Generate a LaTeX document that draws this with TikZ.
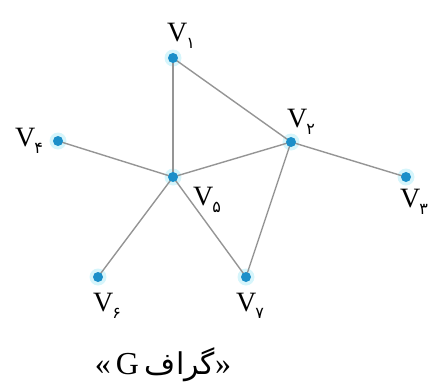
\documentclass[tikz,border=0pt]{standalone}
\usepackage{fontspec}
\setmainfont{Liberation Serif}
\newfontfamily\digfont{DejaVu Sans}
\newfontfamily\arabicfont[Script=Arabic]{DejaVu Sans}
\TeXXeTstate=1
\definecolor{dotblue}{HTML}{1B8FC9}
\definecolor{halo}{HTML}{D6F5FB}
\definecolor{edgegray}{HTML}{959595}
\newcommand\vlab[1]{\fontsize{28}{30}\selectfont V\kern-1pt\raisebox{-0.25em}{\digfont\fontsize{16}{17}\selectfont #1}}
\tikzset{
  vert/.style={circle,fill=dotblue,inner sep=0pt,minimum size=10pt},
  lab/.style={inner sep=0pt},
  edge/.style={draw=edgegray,line width=1.4pt}
}
\begin{document}
\begin{tikzpicture}[x=1pt,y=-1pt]
\useasboundingbox (0,0) rectangle (432,389);
\coordinate (c1) at (173,58);
\coordinate (c2) at (291,142);
\coordinate (c3) at (406,177);
\coordinate (c4) at (58,141);
\coordinate (c5) at (173,177);
\coordinate (c6) at (98,277);
\coordinate (c7) at (246,277);
\foreach \p in {c1,c2,c3,c4,c5,c6,c7}
  \fill[halo] (\p) circle (8.5);
\draw[edge] (c1) -- (c5);
\draw[edge] (c1) -- (c2);
\draw[edge] (c4) -- (c5);
\draw[edge] (c5) -- (c2);
\draw[edge] (c2) -- (c3);
\draw[edge] (c2) -- (c7);
\draw[edge] (c5) -- (c7);
\draw[edge] (c5) -- (c6);
\node[vert] (v1) at (c1) {};
\node[vert] (v2) at (c2) {};
\node[vert] (v3) at (c3) {};
\node[vert] (v4) at (c4) {};
\node[vert] (v5) at (c5) {};
\node[vert] (v6) at (c6) {};
\node[vert] (v7) at (c7) {};
\node[lab] (l1) at (181,36) {\vlab{۱}};
\node[lab] (l2) at (301,122) {\vlab{۲}};
\node[lab] (l3) at (414,202) {\vlab{۳}};
\node[lab] (l4) at (29,141) {\vlab{۴}};
\node[lab] (l5) at (207,200) {\vlab{۵}};
\node[lab] (l6) at (107,306) {\vlab{۶}};
\node[lab] (l7) at (250,306) {\vlab{۷}};
\node[lab] (cap) at (163,365) {\fontsize{32}{34}\selectfont «\hspace{5pt}G\hspace{6pt}{\arabicfont\fontsize{30}{32}\selectfont\beginR گراف\endR}»};
\end{tikzpicture}
\end{document}
